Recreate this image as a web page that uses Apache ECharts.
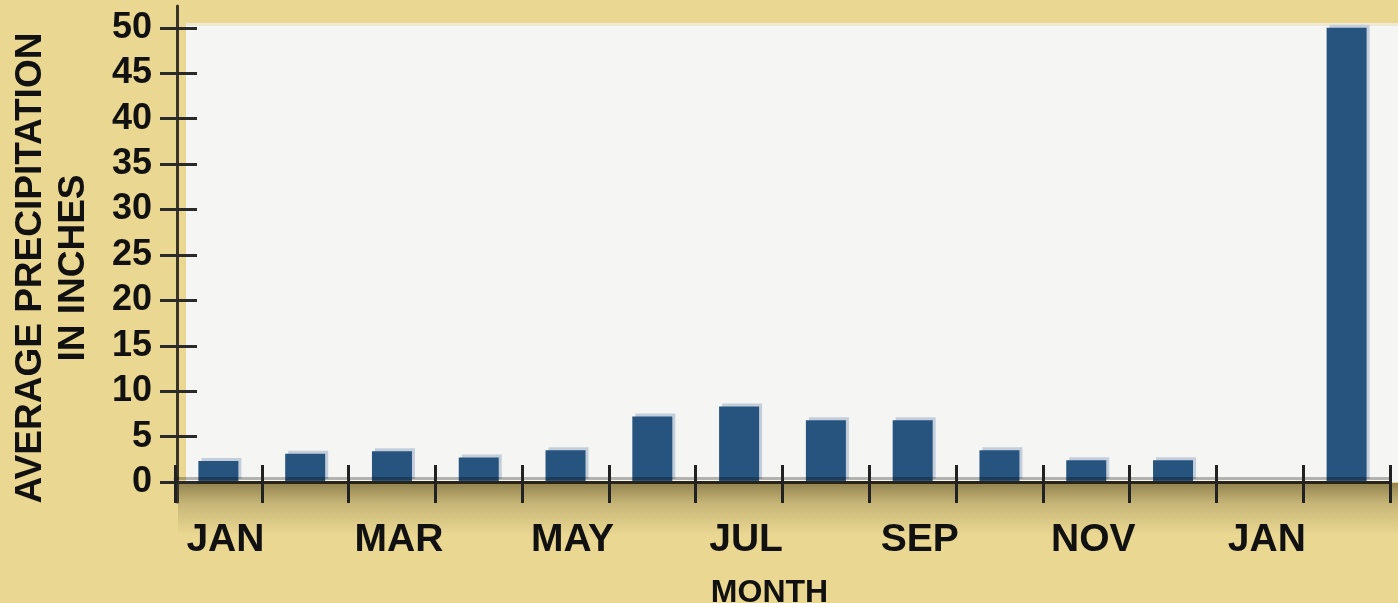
<!DOCTYPE html>
<html>
<head>
<meta charset="utf-8">
<script src="https://cdn.jsdelivr.net/npm/echarts@6/dist/echarts.min.js"></script>
<style>
  html, body { margin: 0; padding: 0; background: #EAD792; }
  #chart { width: 1398px; height: 603px; }
</style>
</head>
<body>
<div id="chart"></div>
<script>
  // data
  const months = ['JAN', 'FEB', 'MAR', 'APR', 'MAY', 'JUN', 'JUL', 'AUG', 'SEP', 'OCT', 'NOV', 'DEC', 'JAN', ''];
  const precip = [2.3, 3.1, 3.4, 2.7, 3.5, 7.2, 8.3, 6.8, 6.8, 3.5, 2.4, 2.4, null, 50];
  const yTicks = [0, 5, 10, 15, 20, 25, 30, 35, 40, 45, 50];

  const font = '"Liberation Sans", Arial, sans-serif';

  const chart = echarts.init(document.getElementById('chart'));

  const option = {
    backgroundColor: '#EAD792',
    animation: false,
    grid: { left: 175, right: 8, top: 6, bottom: 101, outerBoundsMode: 'none', containLabel: false },
    graphic: [
      // plot area panel
      { type: 'rect', z: 1, shape: { x: 186, y: 23, width: 1212, height: 459 }, style: { fill: '#F5F5F3' } },
      { type: 'rect', z: 1, shape: { x: 186, y: 23, width: 1212, height: 3 }, style: { fill: '#EEE8D4' } },
      // shading under the x axis
      {
        type: 'rect', z: 1,
        shape: { x: 178, y: 483, width: 1220, height: 52 },
        style: {
          fill: new echarts.graphic.LinearGradient(0, 0, 0, 1, [
            { offset: 0, color: 'rgba(60,50,15,0.5)' },
            { offset: 0.4, color: 'rgba(60,50,15,0.2)' },
            { offset: 1, color: 'rgba(60,50,15,0)' }
          ])
        }
      }
    ],
    xAxis: [
      {
        type: 'category',
        data: months,
        z: 3,
        position: 'bottom',
        axisLine: {
          onZero: true,
          lineStyle: { color: '#2A2416', width: 3, shadowColor: 'rgba(0,0,0,0.27)', shadowOffsetY: -4, shadowBlur: 0 }
        },
        axisTick: { show: true, interval: 0, length: 21, lineStyle: { color: '#222', width: 3 } },
        axisLabel: {
          interval: 1,
          margin: 19,
          padding: [0, 0, 0, 14],
          color: '#111',
          fontFamily: font,
          fontWeight: 'bold',
          fontSize: 39
        },
        name: 'MONTH',
        nameLocation: 'middle',
        nameGap: 75,
        nameTextStyle: { color: '#111', fontFamily: font, fontWeight: 'bold', fontSize: 32, padding: [0, 26, 0, 0] }
      },
      {
        type: 'category',
        data: months,
        z: 3,
        position: 'bottom',
        axisLine: { show: false, onZero: true },
        axisTick: { show: true, interval: 0, inside: true, length: 17, lineStyle: { color: '#222', width: 3 } },
        axisLabel: { show: false }
      }
    ],
    yAxis: [
      {
        type: 'value',
        position: 'left',
        min: -2.2,
        max: 52.4,
        offset: -2,
        z: 3,
        splitLine: { show: false },
        axisLine: { show: true, onZero: false, lineStyle: { color: '#3A3426', width: 3 } },
        axisTick: { show: true, length: 17, customValues: yTicks, lineStyle: { color: '#2A2A2A', width: 3 } },
        axisLabel: {
          customValues: yTicks,
          margin: 25,
          color: '#111',
          fontFamily: font,
          fontWeight: 'bold',
          fontSize: 36
        },
        name: 'AVERAGE PRECIPITATION\nIN INCHES',
        nameLocation: 'middle',
        nameGap: 82,
        nameTextStyle: {
          color: '#111', fontFamily: font, fontWeight: 'bold', fontSize: 37, lineHeight: 43,
          padding: [0, 28, 0, 0]
        }
      },
      {
        type: 'value',
        position: 'left',
        min: -2.2,
        max: 52.4,
        offset: -2,
        z: 3,
        splitLine: { show: false },
        axisLine: { show: false, onZero: false },
        axisTick: { show: true, inside: true, length: 20, customValues: yTicks, lineStyle: { color: '#2A2A2A', width: 3 } },
        axisLabel: { show: false }
      }
    ],
    series: [
      {
        type: 'bar',
        xAxisIndex: 0,
        yAxisIndex: 0,
        z: 2,
        data: precip,
        barWidth: 40,
        itemStyle: {
          color: '#27537F',
          shadowColor: '#C3CEDA',
          shadowOffsetX: 3,
          shadowOffsetY: -3,
          shadowBlur: 0
        }
      }
    ]
  };

  chart.setOption(option);
</script>
</body>
</html>
